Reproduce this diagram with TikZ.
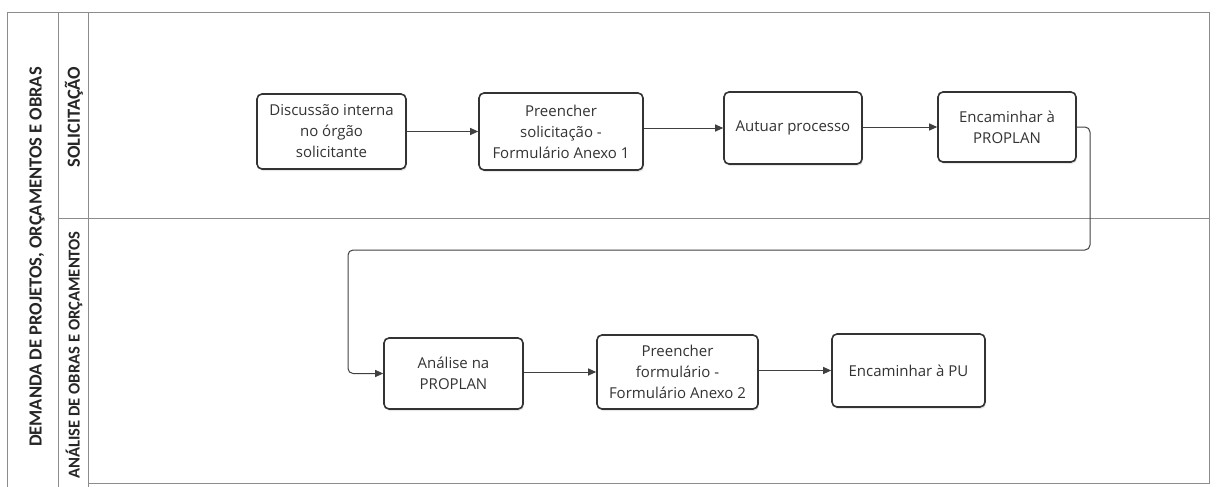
\documentclass[tikz,border=0pt]{standalone}
\usepackage{fontspec}
\setmainfont{Open Sans}
\newfontfamily\lanefont{Carlito}
\usetikzlibrary{arrows.meta,shadows}
\begin{document}
\begin{tikzpicture}[x=1pt,y=-1pt,
  framel/.style={draw=black!45,line width=0.8pt},
  task/.style={draw=black!80,line width=1.6pt,rounded corners=5pt,fill=white,
    align=center,font=\fontsize{15}{21}\selectfont,text=black!80,
    inner sep=2pt,drop shadow={opacity=0.18,shadow xshift=1pt,shadow yshift=-2pt}},
  flow/.style={draw=black!75,line width=1pt,-{Triangle[length=8pt,width=7pt]}},
  lanelbl/.style={rotate=90,font=\lanefont\bfseries\fontsize{18.5}{20}\selectfont,text=black!85}]
\useasboundingbox (0,0) rectangle (1216,487);
% frame
\draw[framel] (7,487) -- (7,12) -- (1209,12) -- (1209,483) -- (88,483);
\draw[framel] (58,12) -- (58,487);
\draw[framel] (88,12) -- (88,487);
\draw[framel] (58,218) -- (1209,218);
% labels
\node[lanelbl] (pool) at (37,257) {DEMANDA DE PROJETOS, ORÇAMENTOS E OBRAS};
\node[lanelbl] (lane1) at (74,117) {SOLICITAÇÃO};
\node[lanelbl,font=\lanefont\bfseries\fontsize{16.6}{18}\selectfont] (lane2) at (74,355) {ANÁLISE DE OBRAS E ORÇAMENTOS};
% tasks
\node[task,minimum width=149pt,minimum height=75pt] (b1) at (331.5,131.5) {Discussão interna\\no órgão\\solicitante};
\node[task,minimum width=164pt,minimum height=77pt] (b2) at (561,131.5) {Preencher\\solicitação -\\Formulário Anexo 1};
\node[task,minimum width=138pt,minimum height=72pt] (b3) at (793,128) {Autuar processo};
\node[task,minimum width=138pt,minimum height=70pt] (b4) at (1007,127) {Encaminhar à\\PROPLAN};
\node[task,minimum width=139pt,minimum height=71pt] (b5) at (453.5,373.5) {Análise na\\PROPLAN};
\node[task,minimum width=161pt,minimum height=74pt] (b6) at (677.5,372) {Preencher\\formulário -\\Formulário Anexo 2};
\node[task,minimum width=153pt,minimum height=73pt] (b7) at (908.5,370.5) {Encaminhar à PU};
% connectors
\draw[flow] (b1.east) -- (b2.west|-b1.east);
\draw[flow] (b2.east|-b3.west) -- (b3.west);
\draw[flow] (b3.east|-b4.west) -- (b4.west);
\coordinate (c1) at (1090,127);
\coordinate (c2) at (1090,250);
\coordinate (c3) at (348,250);
\coordinate (c4) at (348,373.5);
\draw[flow,rounded corners=5pt] (b4.east) -- (c1) -- (c2) -- (c3) -- (c4) -- (b5.west);
\draw[flow] (b5.east|-b6.west) -- (b6.west);
\draw[flow] (b6.east|-b7.west) -- (b7.west);
\end{tikzpicture}
\end{document}
